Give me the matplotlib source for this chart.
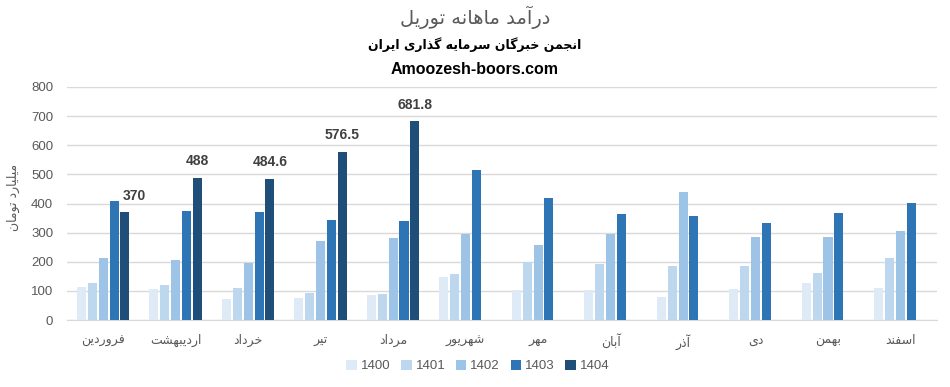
import numpy as np
import matplotlib
matplotlib.use("Agg")
import matplotlib.pyplot as plt
from matplotlib.patches import Patch

# Months (Persian calendar) and yearly series, values in billion toman
months = ["فروردین", "اردیبهشت", "خرداد", "تیر", "مرداد", "شهریور",
          "مهر", "آبان", "آذر", "دی", "بهمن", "اسفند"]
years = ["1400", "1401", "1402", "1403", "1404"]
s1400 = [113, 107, 72, 76, 86, 148, 103, 102, 79, 107, 127, 110]
s1401 = [127, 120, 110, 93, 89, 158, 200, 193, 186, 186, 162, 213]
s1402 = [213, 206, 196, 272, 282, 296, 258, 296, 440, 285, 285, 306]
s1403 = [409, 375, 371, 344, 340, 516, 419, 364, 358, 334, 368, 402]
s1404 = [370, 488, 484.6, 576.5, 681.8, None, None, None, None, None, None, None]
colors = ["#DEEBF7", "#BDD7EE", "#9DC3E6", "#2E75B6", "#1F4E79"]

# simple Persian shaping: (isolated, final, initial, medial)
FORMS = {
    "ا": (0xFE8D, 0xFE8E), "آ": (0xFE81, 0xFE82),
    "د": (0xFEA9, 0xFEAA), "ذ": (0xFEAB, 0xFEAC),
    "ر": (0xFEAD, 0xFEAE), "ز": (0xFEAF, 0xFEB0),
    "و": (0xFEED, 0xFEEE),
    "ب": (0xFE8F, 0xFE90, 0xFE91, 0xFE92), "پ": (0xFB56, 0xFB57, 0xFB58, 0xFB59),
    "ت": (0xFE95, 0xFE96, 0xFE97, 0xFE98), "ج": (0xFE9D, 0xFE9E, 0xFE9F, 0xFEA0),
    "خ": (0xFEA5, 0xFEA6, 0xFEA7, 0xFEA8), "س": (0xFEB1, 0xFEB2, 0xFEB3, 0xFEB4),
    "ش": (0xFEB5, 0xFEB6, 0xFEB7, 0xFEB8), "ف": (0xFED1, 0xFED2, 0xFED3, 0xFED4),
    "ک": (0xFB8E, 0xFB8F, 0xFB90, 0xFB91), "گ": (0xFB92, 0xFB93, 0xFB94, 0xFB95),
    "ل": (0xFEDD, 0xFEDE, 0xFEDF, 0xFEE0), "م": (0xFEE1, 0xFEE2, 0xFEE3, 0xFEE4),
    "ن": (0xFEE5, 0xFEE6, 0xFEE7, 0xFEE8), "ه": (0xFEE9, 0xFEEA, 0xFEEB, 0xFEEC),
    "ی": (0xFBFC, 0xFBFD, 0xFBFE, 0xFBFF),
}


def fa(text):
    out = []
    for i, ch in enumerate(text):
        if ch not in FORMS:
            out.append(ch)
            continue
        prev = text[i - 1] if i > 0 else ""
        nxt = text[i + 1] if i + 1 < len(text) else ""
        join_prev = prev in FORMS and len(FORMS[prev]) == 4
        join_next = len(FORMS[ch]) == 4 and nxt in FORMS
        f = FORMS[ch]
        if join_prev and join_next:
            out.append(chr(f[3]))
        elif join_prev:
            out.append(chr(f[1]))
        elif join_next:
            out.append(chr(f[2]))
        else:
            out.append(chr(f[0]))
    return "".join(out)[::-1]


plt.rcParams["font.family"] = ["DejaVu Sans"]

fig = plt.figure(figsize=(9.5, 3.87), dpi=100)
ax = fig.add_axes([0.0705, 0.1731, 0.9155, 0.6021])

x = np.arange(len(months))
width = 0.125
step = 0.15
series = [s1400, s1401, s1402, s1403, s1404]
for i, vals in enumerate(series):
    v = np.array([np.nan if a is None else a for a in vals], dtype=float)
    ax.bar(x + (i - 2) * step, v, width, color=colors[i], zorder=3)

# data labels for 1404
for j, val in enumerate(s1404):
    if val is None:
        continue
    dx = 7 if j == 0 else 0
    label = f"{val:g}"
    ax.annotate(label, (x[j] + 2 * step, val), xytext=(dx, 7),
                textcoords="offset points", ha="center", va="bottom",
                fontsize=10, fontweight="bold", color="#404040",
                family="Liberation Sans")

ax.set_xlim(-0.5, len(months) - 0.5)
ax.set_ylim(0, 800)
ax.set_yticks(range(0, 801, 100))
ax.yaxis.grid(True, color="#D9D9D9", linewidth=1, zorder=0)
for s in ["top", "right", "left"]:
    ax.spines[s].set_visible(False)
ax.spines["bottom"].set_color("#D9D9D9")
ax.tick_params(axis="both", length=0, colors="#595959")
ax.tick_params(axis="y", pad=10)
for t in ax.get_yticklabels():
    t.set_family("Liberation Sans")
    t.set_fontsize(9.5)
ax.set_xticks(x)
ax.set_xticklabels([fa(m) for m in months], fontsize=9, color="#595959")
ax.tick_params(axis="x", pad=10)

fig.text(0.0137, 0.491, fa("میلیارد تومان"), rotation=90, ha="center",
         va="center", fontsize=9, color="#595959")

# titles
fig.text(0.5, 0.955, fa("درآمد ماهانه توریل"), ha="center", va="center",
         fontsize=14, color="#595959")
fig.text(0.5, 0.885, fa("انجمن خبرگان سرمایه گذاری ایران"), ha="center",
         va="center", fontsize=9, fontweight="bold", color="black")
fig.text(0.5, 0.82, "Amoozesh-boors.com", ha="center", va="center",
         fontsize=11.5, fontweight="bold", color="black",
         family="Liberation Sans")

handles = [Patch(facecolor=c) for c in colors]
fig.legend(handles, years, loc="center", bbox_to_anchor=(0.503, 0.054),
           ncol=5, frameon=False, handlelength=0.8,
           handleheight=0.8, handletextpad=0.3, columnspacing=0.8,
           labelcolor="#595959", prop={"family": "Liberation Sans", "size": 9.5})

fig.savefig("out.png", dpi=100)
